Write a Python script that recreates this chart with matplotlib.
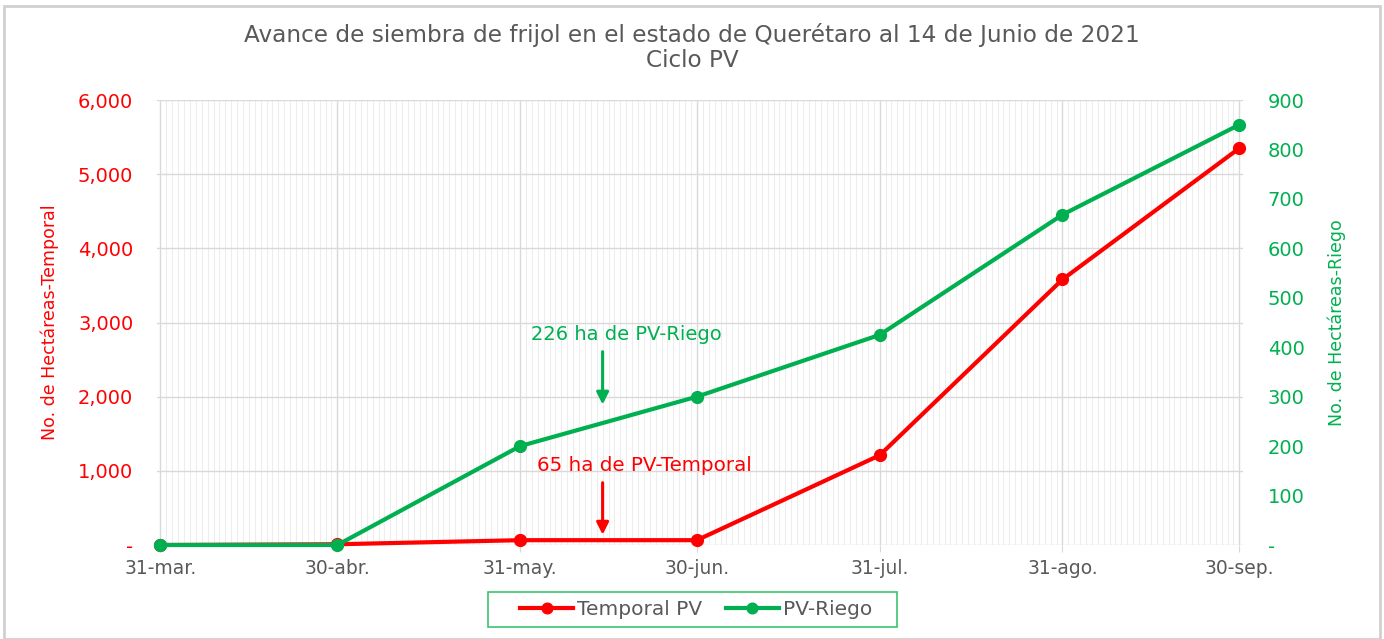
import datetime as dt
import matplotlib
matplotlib.use("Agg")
import matplotlib.pyplot as plt
import matplotlib.dates as mdates
from matplotlib.patches import Rectangle
from matplotlib.ticker import FixedLocator, FuncFormatter

# data
fechas = [dt.date(2021, 3, 31), dt.date(2021, 4, 30), dt.date(2021, 5, 31),
          dt.date(2021, 6, 30), dt.date(2021, 7, 31), dt.date(2021, 8, 31),
          dt.date(2021, 9, 30)]
etiquetas_x = ["31-mar.", "30-abr.", "31-may.", "30-jun.", "31-jul.", "31-ago.", "30-sep."]
temporal_pv = [0, 10, 65, 65, 1210, 3580, 5350]
pv_riego = [0, 0, 200, 300, 425, 668, 850]

fecha_corte = dt.date(2021, 6, 14)
nota_riego = "226 ha de PV-Riego"
nota_temporal = "65 ha de PV-Temporal"

RED = "#FF0000"
GREEN = "#00B050"
GRAY = "#595959"
GRID = "#D9D9D9"

plt.rcParams["font.family"] = ["DejaVu Sans"]

fig = plt.figure(figsize=(13.84, 6.39), dpi=100)
fig.patches.append(Rectangle((0.003, 0.0), 0.994, 0.99, transform=fig.transFigure,
                             fill=False, edgecolor="#D0D0D0", linewidth=2))
ax = fig.add_axes([0.1134, 0.1471, 0.7846, 0.6964])
ax2 = ax.twinx()

# grid: daily minor lines, month ends as major
ax.xaxis.set_minor_locator(mdates.DayLocator())
ax.xaxis.set_major_locator(FixedLocator(mdates.date2num(fechas)))
ax.set_xticklabels(etiquetas_x)
ax.grid(True, which="minor", axis="x", color="#EDEDED", linewidth=0.8)
ax.grid(True, which="major", axis="both", color=GRID, linewidth=1)
ax.set_axisbelow(True)

l1, = ax.plot(fechas, temporal_pv, color=RED, lw=3, marker="o", ms=8.5,
              label="Temporal PV", clip_on=False, zorder=3)
l2, = ax2.plot(fechas, pv_riego, color=GREEN, lw=3, marker="o", ms=8.5,
               label="PV-Riego", clip_on=False, zorder=3)

ax.set_xlim(mdates.date2num(fechas[0]) - 0.6, mdates.date2num(fechas[-1]) + 0.6)
ax.set_ylim(0, 6000)
ax2.set_ylim(0, 900)
ax.set_yticks(range(0, 6001, 1000))
ax2.set_yticks(range(0, 901, 100))
ax.yaxis.set_major_formatter(FuncFormatter(lambda v, p: "-" if v == 0 else f"{int(v):,}"))
ax2.yaxis.set_major_formatter(FuncFormatter(lambda v, p: "-" if v == 0 else f"{int(v)}"))

for a in (ax, ax2):
    for s in a.spines.values():
        s.set_visible(False)
ax.tick_params(axis="x", which="both", length=0, pad=5, labelsize=13.5, labelcolor=GRAY)
ax.tick_params(axis="x", which="major", length=5, color=GRID)
ax.tick_params(axis="y", length=0, pad=17, labelsize=14, labelcolor=RED)
ax2.tick_params(axis="y", length=0, pad=18, labelsize=14, labelcolor=GREEN)

ax.set_ylabel("No. de Hectáreas-Temporal", color=RED, fontsize=12.5, labelpad=14)
ax2.set_ylabel("No. de Hectáreas-Riego", color=GREEN, fontsize=12.5, labelpad=16)

# annotations
arrow_kw = dict(arrowstyle="-|>", lw=2.2, mutation_scale=18, shrinkA=0, shrinkB=0)
ax2.annotate("", xy=(fecha_corte, 284), xytext=(fecha_corte, 391),
             arrowprops=dict(color=GREEN, **arrow_kw))
ax2.text(dt.date(2021, 6, 18), 425, nota_riego, color=GREEN, fontsize=14,
         ha="center", va="center")
ax.annotate("", xy=(fecha_corte, 139), xytext=(fecha_corte, 840),
            arrowprops=dict(color=RED, **arrow_kw))
ax.text(dt.date(2021, 6, 21), 1069, nota_temporal, color=RED, fontsize=14.3,
        ha="center", va="center")

fig.text(0.5, 0.946, "Avance de siembra de frijol en el estado de Querétaro al 14 de Junio de 2021",
         ha="center", va="center", fontsize=16.7, color=GRAY)
fig.text(0.5, 0.905, "Ciclo PV", ha="center", va="center", fontsize=16.7, color=GRAY)

# legend, with its own wider box drawn behind it
fig.patches.append(Rectangle((0.3526, 0.0188), 0.2955, 0.0548, transform=fig.transFigure,
                             fill=False, edgecolor="#3CC36F", linewidth=1.2))
leg = fig.legend(handles=[l1, l2], loc="center", bbox_to_anchor=(0.503, 0.046), ncol=2,
                 frameon=False, labelcolor=GRAY, prop={"size": 14.5},
                 handlelength=2.6, handletextpad=0.2, columnspacing=1.2,
                 borderpad=0.3, borderaxespad=0, markerscale=0.9)

fig.savefig("out.png", dpi=100)
